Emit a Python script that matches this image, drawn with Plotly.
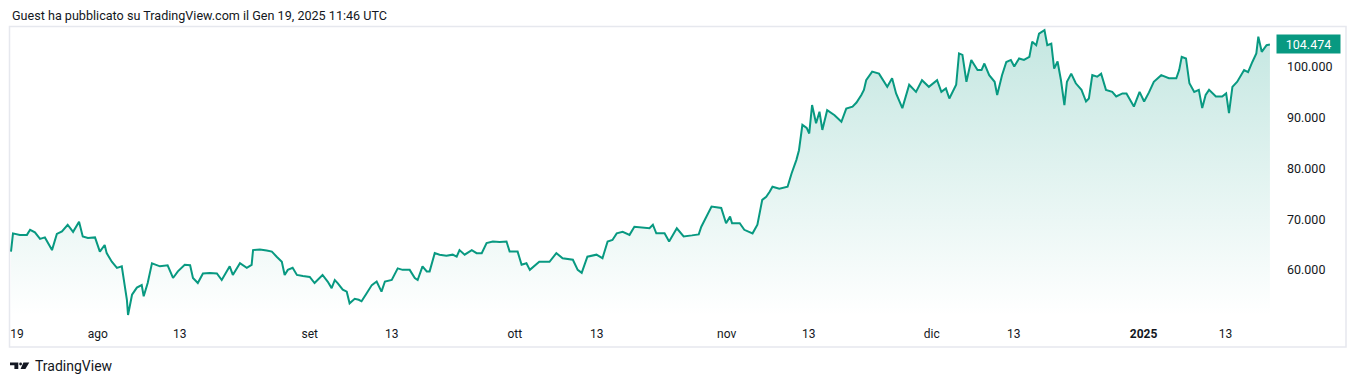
import plotly.graph_objects as go

# ---- data ----
dates = [
    "2024-07-19 07:00", "2024-07-19 14:00", "2024-07-20 14:00", "2024-07-21 15:00", "2024-07-22 02:00",
    "2024-07-22 19:00", "2024-07-23 13:00", "2024-07-24 06:00", "2024-07-25 07:00", "2024-07-26 00:00",
    "2024-07-26 18:00", "2024-07-27 14:00", "2024-07-28 09:00", "2024-07-29 06:00", "2024-07-29 19:00",
    "2024-07-30 13:00", "2024-07-31 14:00", "2024-08-01 07:00", "2024-08-02 00:00", "2024-08-02 07:00",
    "2024-08-03 01:00", "2024-08-03 19:00", "2024-08-04 12:00", "2024-08-04 19:00", "2024-08-05 06:00",
    "2024-08-05 10:00", "2024-08-06 00:00", "2024-08-06 17:00", "2024-08-07 10:00", "2024-08-07 17:00",
    "2024-08-08 07:00", "2024-08-08 22:00", "2024-08-10 02:00", "2024-08-11 05:00", "2024-08-12 00:00",
    "2024-08-12 17:00", "2024-08-13 17:00", "2024-08-14 12:00", "2024-08-14 22:00", "2024-08-15 15:00",
    "2024-08-16 09:00", "2024-08-17 09:00", "2024-08-18 10:00", "2024-08-19 03:00", "2024-08-20 07:00",
    "2024-08-20 18:00", "2024-08-21 19:00", "2024-08-22 19:00", "2024-08-23 12:00", "2024-08-23 17:00",
    "2024-08-24 17:00", "2024-08-25 17:00", "2024-08-26 11:00", "2024-08-27 04:00", "2024-08-27 22:00",
    "2024-08-28 08:00", "2024-08-28 19:00", "2024-08-29 12:00", "2024-08-30 03:00", "2024-08-31 00:00",
    "2024-09-01 00:00", "2024-09-01 17:00", "2024-09-02 21:00", "2024-09-03 15:00", "2024-09-04 05:00",
    "2024-09-04 16:00", "2024-09-05 02:00", "2024-09-05 20:00", "2024-09-06 10:00", "2024-09-06 20:00",
    "2024-09-07 14:00", "2024-09-08 04:00", "2024-09-08 14:00", "2024-09-09 08:00", "2024-09-10 02:00",
    "2024-09-10 19:00", "2024-09-11 12:00", "2024-09-12 00:00", "2024-09-13 00:00", "2024-09-13 21:00",
    "2024-09-14 14:00", "2024-09-15 15:00", "2024-09-16 09:00", "2024-09-16 19:00", "2024-09-17 12:00",
    "2024-09-18 03:00", "2024-09-18 13:00", "2024-09-19 07:00", "2024-09-20 00:00", "2024-09-21 00:00",
    "2024-09-21 22:00", "2024-09-22 12:00", "2024-09-22 22:00", "2024-09-23 16:00", "2024-09-24 17:00",
    "2024-09-25 10:00", "2024-09-26 04:00", "2024-09-26 21:00", "2024-09-27 19:00", "2024-09-28 19:00",
    "2024-09-29 19:00", "2024-09-30 06:00", "2024-10-01 10:00", "2024-10-02 00:00", "2024-10-02 17:00",
    "2024-10-03 05:00", "2024-10-04 14:00", "2024-10-06 02:00", "2024-10-07 02:00", "2024-10-08 00:00",
    "2024-10-09 12:00", "2024-10-10 05:00", "2024-10-10 19:00", "2024-10-11 15:00", "2024-10-12 23:00",
    "2024-10-13 20:00", "2024-10-14 14:00", "2024-10-15 07:00", "2024-10-15 22:00", "2024-10-16 19:00",
    "2024-10-17 19:00", "2024-10-18 12:00", "2024-10-20 00:00", "2024-10-20 17:00", "2024-10-21 05:00",
    "2024-10-21 17:00", "2024-10-22 22:00", "2024-10-23 14:00", "2024-10-24 17:00", "2024-10-25 17:00",
    "2024-10-26 22:00", "2024-10-27 22:00", "2024-10-28 07:00", "2024-10-29 19:00", "2024-10-31 05:00",
    "2024-10-31 22:00", "2024-11-01 12:00", "2024-11-01 19:00", "2024-11-02 22:00", "2024-11-03 14:00",
    "2024-11-04 19:00", "2024-11-05 12:00", "2024-11-06 05:00", "2024-11-06 19:00", "2024-11-07 07:00",
    "2024-11-07 17:00", "2024-11-08 17:00", "2024-11-09 22:00", "2024-11-10 12:00", "2024-11-11 05:00",
    "2024-11-11 14:00", "2024-11-12 02:00", "2024-11-12 17:00", "2024-11-13 02:00", "2024-11-13 12:00",
    "2024-11-14 02:00", "2024-11-14 14:00", "2024-11-15 00:00", "2024-11-15 17:00", "2024-11-16 19:00",
    "2024-11-17 19:00", "2024-11-18 12:00", "2024-11-19 10:00", "2024-11-20 00:00", "2024-11-20 17:00",
    "2024-11-21 02:00", "2024-11-21 10:00", "2024-11-22 07:00", "2024-11-23 07:00", "2024-11-24 12:00",
    "2024-11-25 05:00", "2024-11-25 19:00", "2024-11-26 17:00", "2024-11-27 17:00", "2024-11-28 17:00",
    "2024-11-29 14:00", "2024-11-30 14:00", "2024-12-01 19:00", "2024-12-02 10:00", "2024-12-03 02:00",
    "2024-12-03 14:00", "2024-12-04 14:00", "2024-12-05 00:00", "2024-12-05 12:00", "2024-12-06 02:00",
    "2024-12-06 19:00", "2024-12-07 17:00", "2024-12-08 07:00", "2024-12-08 17:00", "2024-12-09 10:00",
    "2024-12-10 05:00", "2024-12-10 14:00", "2024-12-11 07:00", "2024-12-11 22:00", "2024-12-12 14:00",
    "2024-12-13 02:00", "2024-12-13 19:00", "2024-12-14 12:00", "2024-12-15 07:00", "2024-12-15 17:00",
    "2024-12-16 07:00", "2024-12-16 17:00", "2024-12-17 12:00", "2024-12-17 22:00", "2024-12-18 12:00",
    "2024-12-18 22:00", "2024-12-19 10:00", "2024-12-19 22:00", "2024-12-20 10:00", "2024-12-20 19:00",
    "2024-12-21 10:00", "2024-12-22 02:00", "2024-12-22 22:00", "2024-12-23 14:00", "2024-12-24 00:00",
    "2024-12-24 12:00", "2024-12-25 05:00", "2024-12-25 19:00", "2024-12-26 12:00", "2024-12-27 10:00",
    "2024-12-28 00:00", "2024-12-28 22:00", "2024-12-29 12:00", "2024-12-29 22:00", "2024-12-30 14:00",
    "2024-12-31 10:00", "2025-01-01 02:00", "2025-01-01 19:00", "2025-01-02 12:00", "2025-01-03 14:00",
    "2025-01-04 17:00", "2025-01-05 19:00", "2025-01-06 05:00", "2025-01-06 14:00", "2025-01-07 05:00",
    "2025-01-07 17:00", "2025-01-08 10:00", "2025-01-09 02:00", "2025-01-09 14:00", "2025-01-10 02:00",
    "2025-01-10 14:00", "2025-01-11 14:00", "2025-01-12 12:00", "2025-01-13 02:00", "2025-01-13 12:00",
    "2025-01-14 00:00", "2025-01-14 17:00", "2025-01-15 17:00", "2025-01-16 07:00", "2025-01-16 22:00",
    "2025-01-17 12:00", "2025-01-17 19:00", "2025-01-18 07:00", "2025-01-19 00:00", "2025-01-19 11:46",
]

prices = [
    63600, 67200, 66900, 66900, 67900, 67400, 66100, 66400, 63900, 67100,
    67600, 68900, 67500, 69500, 66600, 66300, 66400, 63600, 64900, 63300,
    61600, 60400, 60700, 57700, 54100, 51100, 55100, 56500, 57000, 54800,
    57400, 61300, 60700, 60900, 58400, 59700, 61000, 60900, 58400, 57400,
    59300, 59400, 59300, 58000, 60700, 59000, 61300, 60400, 61000, 63900,
    64000, 63800, 63600, 62600, 61600, 59000, 60000, 60400, 59000, 58800,
    58600, 57400, 59000, 57700, 56400, 58000, 57400, 56100, 55700, 53400,
    54300, 54100, 53800, 55400, 57000, 57700, 55700, 57700, 58000, 60300,
    60000, 60000, 58400, 58000, 60700, 59700, 59700, 63300, 63000, 62800,
    63000, 62600, 63900, 63000, 63900, 63300, 63300, 65300, 65600, 65500,
    65600, 63600, 63600, 61000, 61300, 60000, 61600, 61600, 63300, 62300,
    62000, 60000, 59400, 62600, 63000, 62300, 65600, 65900, 67200, 67500,
    66900, 68500, 68200, 68200, 68900, 67200, 67200, 65600, 68200, 66600,
    66800, 67000, 68500, 72500, 72200, 69200, 70500, 69200, 69200, 67900,
    67200, 68900, 73800, 74400, 75400, 76400, 76000, 76400, 79000, 81700,
    83600, 88600, 88000, 86900, 92500, 88900, 91200, 87600, 91500, 90500,
    89200, 91800, 92200, 93000, 94500, 95500, 97400, 99100, 98700, 96100,
    97800, 94800, 91900, 96500, 95100, 97400, 96100, 97400, 95100, 95800,
    93800, 96500, 102700, 102400, 97100, 101400, 99400, 99400, 100700, 98400,
    97100, 94500, 98400, 101000, 101400, 100100, 101700, 101400, 102000, 105000,
    104300, 106600, 107300, 104300, 104600, 99700, 101100, 97400, 92500, 97100,
    98700, 96800, 95500, 93200, 93800, 98400, 98100, 98700, 95500, 95100,
    94200, 94800, 94800, 93800, 92200, 95100, 93200, 95000, 97100, 98400,
    97800, 97800, 99400, 102000, 101700, 96800, 95100, 95500, 91900, 94500,
    95500, 94200, 94200, 94800, 90900, 96100, 97100, 99400, 99000, 101000,
    102700, 106000, 103000, 104300, 104474,
]

tick_dates = ["2024-07-20 04:00", "2024-08-01", "2024-08-13", "2024-09-01", "2024-09-13",
              "2024-10-01", "2024-10-13", "2024-11-01", "2024-11-13", "2024-12-01",
              "2024-12-13", "2025-01-01", "2025-01-13"]
tick_labels = ["19", "ago", "13", "set", "13", "ott", "13", "nov", "13", "dic", "13",
               "<b>2025</b>", "13"]
price_ticks = [60000, 70000, 80000, 90000, 100000]
last_price = 104474
last_label = "104.474"
title_text = "Guest ha pubblicato su TradingView.com il Gen 19, 2025 11:46 UTC"
brand_text = "TradingView"

# ---- styling / layout ----
W, H = 1356, 382
ML, MR, MT, MB = 10, 86, 27, 66
PW, PH = W - ML - MR, H - MT - MB
Y_MIN, Y_MAX = 50900, 107900
GREEN = "#089981"
TEXT = "#131722"
FONT = "Roboto, Inter, 'Open Sans', sans-serif"


def px(x):
    return (x - ML) / PW


def py(y):
    return (H - MB - y) / PH


fig = go.Figure()
fig.add_trace(go.Scatter(
    x=dates, y=prices, mode="lines",
    line=dict(color=GREEN, width=2),
    fill="tozeroy",
    fillgradient=dict(
        type="vertical",
        colorscale=[[0, "rgba(8,153,129,0.0)"], [1, "rgba(8,153,129,0.24)"]],
        start=Y_MIN, stop=max(prices),
    ),
    hoverinfo="skip", showlegend=False,
))

shapes = [
    # outer frame
    dict(type="rect", xref="paper", yref="paper",
         x0=px(9.5), x1=px(1346), y0=py(347), y1=py(26.5),
         line=dict(color="#e6e8ee", width=1.5), layer="below"),
    # TradingView logo pieces
    dict(type="path", xref="paper", yref="paper",
         path=f"M {px(10)},{py(362.5)} L {px(18.3)},{py(362.5)} L {px(18.3)},{py(369)} "
              f"L {px(14.4)},{py(369)} L {px(14.4)},{py(365.3)} L {px(10)},{py(365.3)} Z",
         fillcolor=TEXT, line=dict(width=0)),
    dict(type="circle", xref="paper", yref="paper",
         x0=px(19.2), x1=px(22.0), y0=py(365.4), y1=py(362.5),
         fillcolor=TEXT, line=dict(width=0)),
    dict(type="path", xref="paper", yref="paper",
         path=f"M {px(23.4)},{py(362.5)} L {px(29.3)},{py(362.5)} L {px(25.4)},{py(369)} "
              f"L {px(20.6)},{py(369)} Z",
         fillcolor=TEXT, line=dict(width=0)),
]

annotations = [
    dict(text=title_text, xref="paper", yref="paper", x=px(10), y=py(15),
         xanchor="left", yanchor="middle", showarrow=False,
         font=dict(size=12.6, color=TEXT, family=FONT)),
    dict(text=brand_text, xref="paper", yref="paper", x=px(33), y=py(366),
         xanchor="left", yanchor="middle", showarrow=False,
         font=dict(size=14, color=TEXT, family=FONT)),
    dict(text=last_label, xref="paper", yref="y", x=px(1276), y=last_price,
         xanchor="left", yanchor="middle", showarrow=False,
         bgcolor=GREEN, width=61, height=16, borderpad=1, align="center",
         font=dict(size=12.5, color="white", family=FONT)),
]

fig.update_layout(
    width=W, height=H,
    margin=dict(l=ML, r=MR, t=MT, b=MB),
    paper_bgcolor="white", plot_bgcolor="white",
    separators=",.",
    font=dict(family=FONT, size=12, color=TEXT),
    shapes=shapes, annotations=annotations,
    xaxis=dict(
        type="date",
        range=["2024-07-19 03:30", "2025-01-19 12:00"],
        tickvals=tick_dates, ticktext=tick_labels,
        showgrid=False, zeroline=False, showline=False, ticks="",
        ticklabelstandoff=9,
        tickfont=dict(size=12, color=TEXT, family=FONT),
    ),
    yaxis=dict(
        side="right", range=[Y_MIN, Y_MAX],
        tickvals=price_ticks, tickformat=",d",
        showgrid=False, zeroline=False, showline=False, ticks="",
        ticklabelstandoff=16,
        tickfont=dict(size=12.5, color=TEXT, family=FONT),
    ),
)

fig.write_html(
    "out.html",
    config={"displayModeBar": False},
    post_script="document.body.style.margin='0';document.body.style.overflow='hidden';",
)
